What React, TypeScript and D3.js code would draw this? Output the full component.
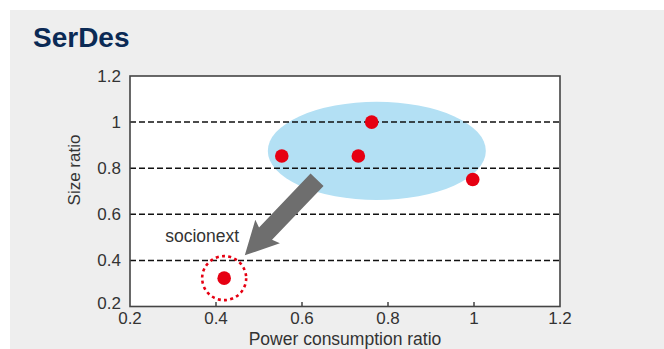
import React from "react";
import * as d3 from "d3";

const xTicks = [0.2, 0.4, 0.6, 0.8, 1, 1.2];
const yTicks = [0.2, 0.4, 0.6, 0.8, 1, 1.2];
const gridValues = [0.4, 0.6, 0.8, 1];
const pointX = [0.553, 0.731, 0.762, 0.997];
const pointY = [0.853, 0.853, 1.0, 0.751];
const highlightX = [0.419];
const highlightY = [0.323];
const highlightLabel = ["socionext"];
const ellipseCenter = [0.774, 0.875];
const ellipseRadii = [0.2535, 0.213];
const arrowFrom = [0.635, 0.75];
const arrowTo = [0.467, 0.422];

const W = 664;
const H = 349;
const FONT = "'Liberation Sans', Arial, Helvetica, sans-serif";

export default function App() {
  const x = d3.scaleLinear().domain([0.2, 1.2]).range([130, 560]);
  const y = d3.scaleLinear().domain([0.2, 1.2]).range([306.5, 76]);

  const fmt = (v: number) => (v === 1 ? "1" : d3.format(".1f")(v));

  // arrow polygon
  const sx = x(arrowFrom[0]);
  const sy = y(arrowFrom[1]);
  const tx = x(arrowTo[0]);
  const ty = y(arrowTo[1]);
  const dx = tx - sx;
  const dy = ty - sy;
  const len = Math.hypot(dx, dy);
  const ux = dx / len;
  const uy = dy / len;
  const nx = -uy;
  const ny = ux;
  const shaftHalf = 9;
  const headHalf = 17;
  const headLen = 30;
  const bx = tx - ux * headLen;
  const by = ty - uy * headLen;
  const pts: [number, number][] = [
    [sx + nx * shaftHalf, sy + ny * shaftHalf],
    [bx + nx * shaftHalf, by + ny * shaftHalf],
    [bx + nx * headHalf - ux * 3, by + ny * headHalf - uy * 3],
    [tx, ty],
    [bx - nx * headHalf - ux * 3, by - ny * headHalf - uy * 3],
    [bx - nx * shaftHalf, by - ny * shaftHalf],
    [sx - nx * shaftHalf, sy - ny * shaftHalf],
  ];
  const arrowPath = d3.line()(pts) + "Z";

  const rxPx = x(ellipseCenter[0] + ellipseRadii[0]) - x(ellipseCenter[0]);
  const ryPx = y(ellipseCenter[1]) - y(ellipseCenter[1] + ellipseRadii[1]);

  return (
    <svg
      width={W}
      height={H}
      style={{ position: "absolute", left: 0, top: 0, background: "#fff" }}
      fontFamily={FONT}
    >
      <rect x={10} y={10} width={W - 10} height={H - 10} fill="#eeeeee" />
      <text x={33} y={47} fontSize={28} fontWeight="bold" fill="#0b2a55">
        SerDes
      </text>

      <rect x={130} y={76} width={430} height={230.5} fill="#ffffff" />

      <ellipse
        cx={x(ellipseCenter[0])}
        cy={y(ellipseCenter[1])}
        rx={rxPx}
        ry={ryPx}
        fill="#b3e0f4"
      />

      {gridValues.map((v) => (
        <line
          key={v}
          x1={130}
          x2={560}
          y1={y(v)}
          y2={y(v)}
          stroke="#111"
          strokeWidth={1.5}
          strokeDasharray="6,3"
        />
      ))}

      {xTicks.slice(1, -1).map((v) => (
        <line key={v} x1={x(v)} x2={x(v)} y1={306.5} y2={302} stroke="#444" strokeWidth={1.5} />
      ))}

      <rect
        x={130}
        y={76}
        width={430}
        height={230.5}
        fill="none"
        stroke="#444"
        strokeWidth={1.6}
      />

      {xTicks.map((v) => (
        <text key={v} x={x(v)} y={324} fontSize={17} fill="#333" textAnchor="middle">
          {fmt(v)}
        </text>
      ))}
      {yTicks.map((v) => (
        <text
          key={v}
          x={121}
          y={y(v) + (v === 0.2 ? -3 : 0)}
          dy="0.35em"
          fontSize={17}
          fill="#333"
          textAnchor="end"
        >
          {fmt(v)}
        </text>
      ))}

      <text x={345} y={345} fontSize={17.5} fill="#333" textAnchor="middle">
        Power consumption ratio
      </text>
      <text
        transform="translate(80,170) rotate(-90)"
        fontSize={17}
        fill="#333"
        textAnchor="middle"
      >
        Size ratio
      </text>

      <path d={arrowPath} fill="#6e6e6e" />

      {pointX.map((v, i) => (
        <circle key={i} cx={x(v)} cy={y(pointY[i])} r={6.8} fill="#e60012" />
      ))}

      {highlightX.map((v, i) => (
        <g key={i}>
          <circle cx={x(v)} cy={y(highlightY[i])} r={6.8} fill="#e60012" />
          <circle
            cx={x(v)}
            cy={y(highlightY[i])}
            r={22}
            fill="none"
            stroke="#e60012"
            strokeWidth={2.6}
            strokeDasharray="3,3.3"
          />
          <text x={x(v) - 59} y={242} fontSize={17.5} fill="#333">
            {highlightLabel[i]}
          </text>
        </g>
      ))}
    </svg>
  );
}
